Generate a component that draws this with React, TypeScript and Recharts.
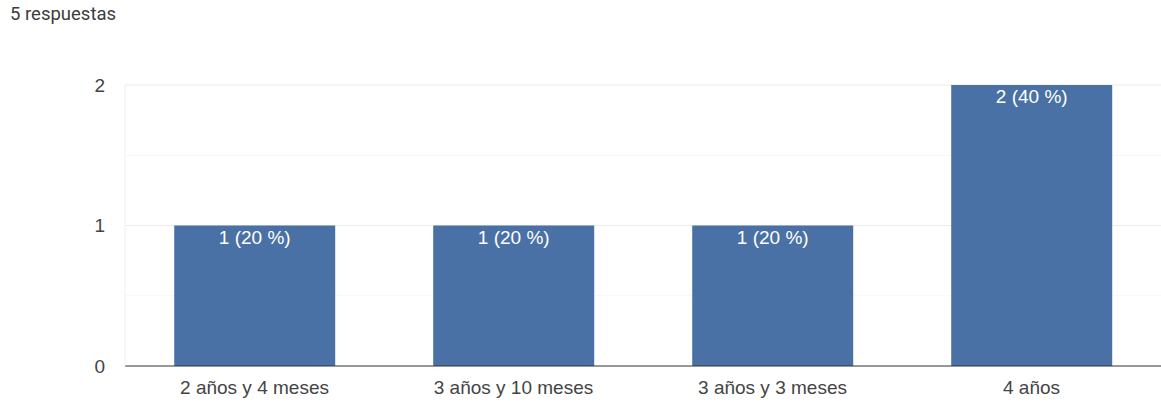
import {
  BarChart,
  Bar,
  XAxis,
  YAxis,
  CartesianGrid,
  LabelList
} from 'recharts';

// Survey answers and how many people gave each one
const categories = ['2 años y 4 meses', '3 años y 10 meses', '3 años y 3 meses', '4 años'];
const counts = [1, 1, 1, 2];
const yTicks = [0, 1, 2];
const majorGrid = [1, 2];
const minorGrid = [0.5, 1.5];

const totalAnswers = counts.reduce((a, b) => a + b, 0);

const BAR_COLOR = '#4a71a6';
const FONT = 'Arial, "Liberation Sans", sans-serif';
const FONT_SIZE = 19;

const chartData = categories.map((name, i) => ({ name, count: counts[i] }));

// "1 (20 %)" style label from the bar value
const formatLabel = (value: unknown): string => {
  const v = Number(value);
  const pct = Math.round((v / totalAnswers) * 100);
  return `${String(v)} (${String(pct)} %)`;
};

const App = () => {
  return (
    <div
      style={{
        position: 'absolute',
        left: 0,
        top: 0,
        width: 1161,
        height: 402,
        background: '#ffffff',
        fontFamily: FONT
      }}
    >
      <div
        style={{
          position: 'absolute',
          left: 10,
          top: 5,
          fontFamily: 'Roboto, Arial, sans-serif',
          fontSize: 18.5,
          lineHeight: 1,
          color: '#3c3c3c',
          whiteSpace: 'nowrap'
        }}
      >
        {totalAnswers} respuestas
      </div>
      <BarChart
        width={1161}
        height={402}
        data={chartData}
        margin={{ top: 85, right: 0, bottom: 0, left: 0 }}
        barCategoryGap="19%"
      >
        <CartesianGrid vertical={false} horizontalValues={minorGrid} stroke="#f6f6f6" />
        <CartesianGrid vertical={false} horizontalValues={majorGrid} stroke="#ebebeb" />
        <XAxis
          dataKey="name"
          height={36}
          axisLine={{ stroke: '#333333' }}
          tickLine={false}
          tickSize={0}
          tickMargin={15}
          tick={{ fill: '#444444', fontSize: FONT_SIZE, fontFamily: FONT }}
          interval={0}
        />
        <YAxis
          width={125}
          domain={[0, 2]}
          ticks={yTicks}
          axisLine={{ stroke: '#f0f0f0' }}
          tickLine={false}
          tickSize={0}
          tickMargin={20}
          tick={{ fill: '#444444', fontSize: FONT_SIZE, fontFamily: FONT }}
        />
        <Bar dataKey="count" fill={BAR_COLOR} isAnimationActive={false}>
          <LabelList
            dataKey="count"
            position="insideTop"
            offset={5}
            formatter={formatLabel}
            fill="#ffffff"
            style={{ fontSize: FONT_SIZE, fontFamily: FONT }}
          />
        </Bar>
      </BarChart>
    </div>
  );
};

export default App;
